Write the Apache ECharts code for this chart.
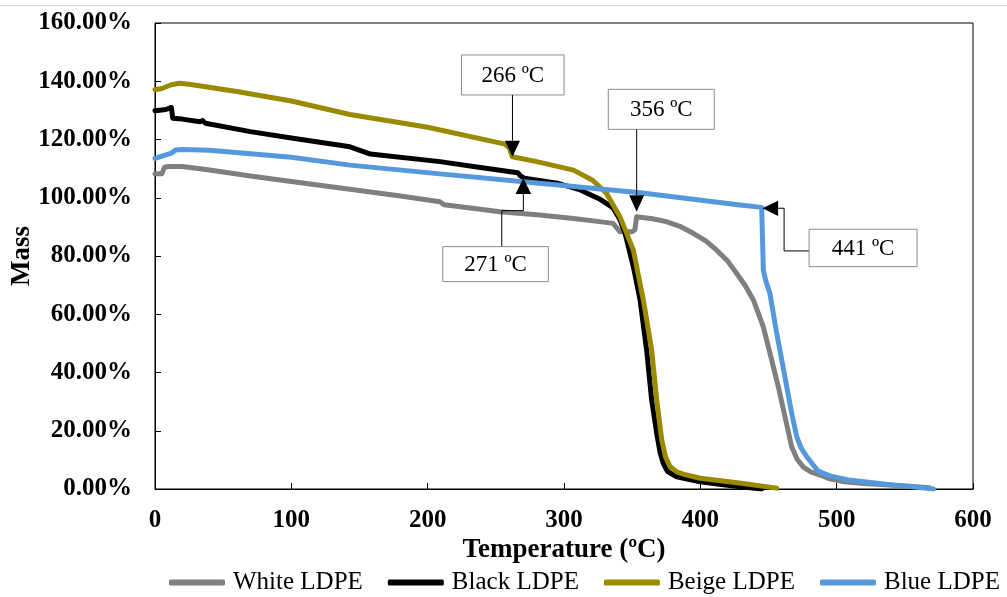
<!DOCTYPE html>
<html>
<head>
<meta charset="utf-8">
<script src="https://cdn.jsdelivr.net/npm/echarts@6/dist/echarts.min.js"></script>
<style>
  html, body { margin: 0; padding: 0; background: #fff; }
  #chart { width: 1007px; height: 597px; }
</style>
</head>
<body>
<div id="chart"></div>
<script>
// ---- Data ----
const seriesNames = ['White LDPE', 'Black LDPE', 'Beige LDPE', 'Blue LDPE'];

const tempWhite = [0, 5, 7, 10, 20, 40, 70, 100, 143, 180, 209, 212, 224, 253, 280, 307, 326, 336, 339, 341, 350, 352, 353.3, 365, 375, 385, 394.8, 404, 412, 420, 426.7, 433, 438.9, 446.2, 452.3, 457.2, 462.1, 467, 471, 475.6, 481, 487.8, 495, 504, 520, 545, 568];
const massWhite = [108.2, 108.2, 110.5, 110.7, 110.7, 109.5, 107.5, 105.6, 102.9, 100.6, 98.6, 97.6, 96.9, 95.2, 94.2, 92.9, 91.8, 91.2, 89.5, 88.3, 88.3, 89, 93.5, 92.8, 91.8, 90.2, 87.8, 85.2, 82, 78.3, 74, 69.8, 64.9, 55.7, 44.3, 35.1, 24.8, 14.5, 10.2, 7.5, 5.9, 4.8, 3.5, 2.6, 1.9, 1.2, 0.4];

const tempBlack = [0, 8, 12, 13, 20, 33, 35, 37, 40, 70, 100, 143, 158, 209, 240, 266, 268, 271, 295, 312, 326, 336, 341, 344.8, 350.9, 355.8, 360.6, 364.3, 368, 370.5, 372.8, 376, 382.7, 399.8, 420, 445];
const massBlack = [129.9, 130.3, 131, 127.3, 127, 126.1, 126.5, 125.6, 125.3, 122.7, 120.5, 117.5, 115, 112.4, 110.3, 108.6, 107.5, 106.7, 105, 102.7, 99.6, 96.5, 92.5, 87.8, 76.3, 64.9, 47.7, 30.6, 19.1, 12.5, 8.8, 6, 4.2, 2.5, 1.3, 0];

const tempBeige = [0, 5, 12, 18, 25, 60, 100, 143, 200, 256.7, 260, 262, 280, 307, 321, 331, 341, 350.9, 358.2, 364.3, 368, 371.7, 374.5, 377.8, 383, 390, 400, 430, 456];
const massBeige = [137.1, 137.5, 138.8, 139.3, 139, 136.5, 133.2, 128.6, 124.2, 118.4, 117, 114.1, 112.4, 109.5, 106, 101.6, 93.5, 82, 64.9, 47.7, 30.6, 16.8, 11, 7.7, 5.8, 4.8, 3.7, 2, 0.3];

const tempBlue = [0, 12, 15, 20, 40, 100, 143, 209, 280, 356, 429, 445, 445.6, 446.2, 448, 451, 456, 462, 467, 470.7, 474, 478, 486.3, 495, 508.7, 525, 541, 558, 571];
const massBlue = [113.5, 115.3, 116.4, 116.6, 116.3, 113.9, 111.2, 108.2, 105.1, 101.7, 97.5, 96.7, 86, 75.2, 71.5, 67.2, 53.5, 38.6, 26, 18, 14, 11.1, 6.2, 4.5, 3.1, 2.2, 1.4, 0.7, 0];

const xTicks = [0, 100, 200, 300, 400, 500, 600];
const yTicksPercent = [0, 20, 40, 60, 80, 100, 120, 140, 160];

const annotationLabels = ['266 ºC', '356 ºC', '271 ºC', '441 ºC'];
const annotationTipTemp = [262.2, 353.3, 270.2, 445.6];
const annotationTipMass = [114.1, 95.2, 106.7, 96.4];

const colors = ['#7f7f7f', '#000000', '#9a8a00', '#5599dc'];

function pairs(xs, ys) { return xs.map((x, i) => [x, ys[i]]); }
const seriesData = [
  pairs(tempWhite, massWhite),
  pairs(tempBlack, massBlack),
  pairs(tempBeige, massBeige),
  pairs(tempBlue, massBlue)
];

const serif = '"Liberation Serif", "Times New Roman", serif';

const chart = echarts.init(document.getElementById('chart'), null, { renderer: 'canvas' });

chart.setOption({
  animation: false,
  backgroundColor: '#ffffff',
  color: colors,
  grid: {
    left: 155, right: 34, top: 23, bottom: 108,
    outerBoundsMode: 'none',
    containLabel: false,
    show: true, borderColor: '#000', borderWidth: 1, backgroundColor: 'transparent'
  },
  legend: {
    data: seriesNames,
    left: 164,
    top: 565,
    icon: 'roundRect',
    itemWidth: 56,
    itemHeight: 6,
    itemGap: 25,
    textStyle: { fontFamily: serif, fontSize: 25, color: '#000', padding: [0, 0, 0, 3] }
  },
  xAxis: {
    type: 'value',
    min: xTicks[0],
    max: xTicks[xTicks.length - 1],
    interval: xTicks[1] - xTicks[0],
    name: 'Temperature (ºC)',
    nameLocation: 'middle',
    nameGap: 48,
    nameMoveOverlap: false,
    nameTextStyle: { fontFamily: serif, fontSize: 27, fontWeight: 'bold', color: '#000' },
    axisLine: { lineStyle: { color: '#000', width: 1 } },
    axisTick: { inside: true, length: 6, lineStyle: { color: '#000' } },
    axisLabel: { fontFamily: serif, fontSize: 25, fontWeight: 'bold', color: '#000', margin: 19 },
    splitLine: { show: false }
  },
  yAxis: {
    type: 'value',
    min: yTicksPercent[0],
    max: yTicksPercent[yTicksPercent.length - 1],
    interval: yTicksPercent[1] - yTicksPercent[0],
    name: 'Mass',
    nameLocation: 'middle',
    nameGap: 119,
    nameMoveOverlap: false,
    nameTextStyle: { fontFamily: serif, fontSize: 27, fontWeight: 'bold', color: '#000' },
    axisLine: { show: true, lineStyle: { color: '#000', width: 1 } },
    axisTick: { show: true, inside: true, length: 6, lineStyle: { color: '#000' } },
    axisLabel: {
      fontFamily: serif, fontSize: 25, fontWeight: 'bold', color: '#000', margin: 23,
      formatter: v => v.toFixed(2) + '%'
    },
    splitLine: { show: false }
  },
  series: seriesNames.map((name, i) => ({
    name: name,
    type: 'line',
    data: seriesData[i],
    showSymbol: false,
    symbol: 'none',
    smooth: false,
    lineStyle: { width: 5, color: colors[i], cap: 'round', join: 'round' },
    itemStyle: { color: colors[i] },
    z: 2 + i
  }))
});

function buildAnnotations() {
  const els = [];
  els.push({ type: 'line', shape: { x1: 0, y1: 5.5, x2: 1007, y2: 5.5 }, style: { stroke: '#d4d4d4', lineWidth: 1 }, z: 1 });
  const tips = annotationLabels.map((_, i) =>
    chart.convertToPixel({ xAxisIndex: 0, yAxisIndex: 0 }, [annotationTipTemp[i], annotationTipMass[i]]));
  const boxStyle = { fill: '#fff', stroke: '#8c8c8c', lineWidth: 1 };
  const lineStyle = { stroke: '#000', lineWidth: 1, fill: null };
  const triStyle = { fill: '#000' };
  function box(i, x, y, w, h) {
    els.push({ type: 'rect', shape: { x: x, y: y, width: w, height: h }, style: boxStyle, z: 100 });
    els.push({ type: 'text', style: { x: x + w / 2, y: y + h / 2 + 1, text: annotationLabels[i], align: 'center', verticalAlign: 'middle', fontFamily: serif, fontSize: 23, fill: '#000' }, z: 101 });
  }
  // 0: 266 (arrow down)
  let [x, y] = tips[0];
  box(0, x - 51, y - 101.7, 102.6, 40);
  els.push({ type: 'polyline', shape: { points: [[x, y - 61.7], [x, y - 16]] }, style: lineStyle, z: 100 });
  els.push({ type: 'polygon', shape: { points: [[x - 7.5, y - 16], [x + 7.5, y - 16], [x, y]] }, style: triStyle, z: 100 });
  // 1: 356 (arrow down)
  [x, y] = tips[1];
  box(1, x - 28.4, y - 122.4, 106, 40);
  els.push({ type: 'polyline', shape: { points: [[x, y - 82.4], [x, y - 16.5]] }, style: lineStyle, z: 100 });
  els.push({ type: 'polygon', shape: { points: [[x - 7.5, y - 16.5], [x + 7.5, y - 16.5], [x, y]] }, style: triStyle, z: 100 });
  // 2: 271 (arrow up)
  [x, y] = tips[2];
  els.push({ type: 'polygon', shape: { points: [[x - 7.8, y + 15.7], [x + 7.8, y + 15.7], [x, y]] }, style: triStyle, z: 100 });
  els.push({ type: 'polyline', shape: { points: [[x, y + 15.7], [x, y + 32.4], [x - 21.6, y + 32.4], [x - 21.6, y + 68.4]] }, style: lineStyle, z: 100 });
  box(2, x - 80.6, y + 68.4, 105.6, 35);
  // 3: 441 (arrow left)
  [x, y] = tips[3];
  els.push({ type: 'polygon', shape: { points: [[x, y], [x + 15.6, y - 7.6], [x + 15.6, y + 7.7]] }, style: triStyle, z: 100 });
  els.push({ type: 'polyline', shape: { points: [[x + 15.6, y], [x + 21.6, y], [x + 21.6, y + 42.7], [x + 46.6, y + 42.7]] }, style: lineStyle, z: 100 });
  box(3, x + 46.6, y + 21, 108, 37.4);
  chart.setOption({ graphic: els });
}
buildAnnotations();
</script>
</body>
</html>
